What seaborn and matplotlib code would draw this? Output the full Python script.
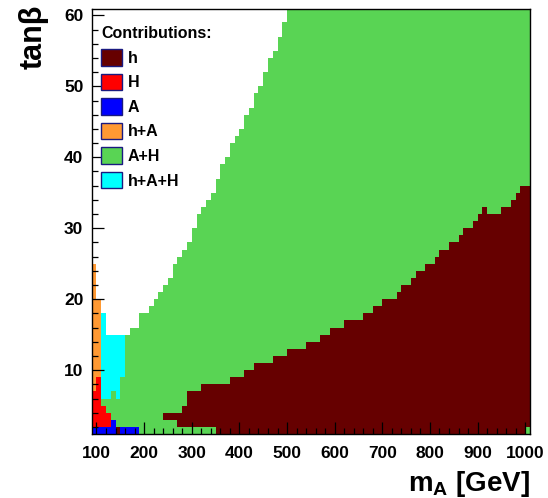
import numpy as np
import pandas as pd
import matplotlib
matplotlib.use("Agg")
import matplotlib.pyplot as plt
import seaborn as sns
from matplotlib.colors import ListedColormap
from matplotlib.patches import Patch
from matplotlib.ticker import MultipleLocator

# ---------------- data ----------------
contributions = ["h", "H", "A", "h+A", "A+H", "h+A+H"]
colours = ["#660000", "#ff0000", "#0000ff", "#ff9933", "#59d454", "#00ffff"]

mA_bin_low = list(range(90, 1010, 10))      # 10 GeV wide mA bins
tanb_bin_low = list(range(1, 61))           # unit-wide tanβ bins

# upper tanβ edge of the filled region in each mA bin (white above)
top_tanb = [25, 20, 18, 15, 15, 15, 15, 15, 16, 16,
            18, 18, 19, 20, 21, 22, 23, 25, 26, 27,
            28, 30, 32, 33, 34, 35, 37, 39, 40, 42,
            43, 44, 46, 47, 49, 50, 52, 54, 55, 57,
            59, 61, 61, 61, 61, 61, 61, 61, 61, 61,
            61, 61, 61, 61, 61, 61, 61, 61, 61, 61,
            61, 61, 61, 61, 61, 61, 61, 61, 61, 61,
            61, 61, 61, 61, 61, 61, 61, 61, 61, 61,
            61, 61, 61, 61, 61, 61, 61, 61, 61, 61,
            61, 61]

# "h" region: lower / upper tanβ edge per mA bin (0 = none)
h_low = [0, 0, 0, 0, 0, 0, 0, 0, 0, 0,
         0, 0, 0, 0, 0, 3, 3, 3, 2, 2,
         2, 2, 2, 2, 2, 2, 1, 1, 1, 1,
         1, 1, 1, 1, 1, 1, 1, 1, 1, 1,
         1, 1, 1, 1, 1, 1, 1, 1, 1, 1,
         1, 1, 1, 1, 1, 1, 1, 1, 1, 1,
         1, 1, 1, 1, 1, 1, 1, 1, 1, 1,
         1, 1, 1, 1, 1, 1, 1, 1, 1, 1,
         1, 1, 1, 1, 1, 1, 1, 1, 1, 1,
         1, 2]
h_high = [0, 0, 0, 0, 0, 0, 0, 0, 0, 0,
          0, 0, 0, 0, 0, 4, 4, 4, 4, 5,
          7, 7, 7, 8, 8, 8, 8, 8, 8, 9,
          9, 9, 10, 10, 11, 11, 11, 11, 12, 12,
          12, 13, 13, 13, 13, 14, 14, 14, 15, 15,
          16, 16, 16, 17, 17, 17, 17, 18, 18, 19,
          19, 20, 20, 20, 21, 22, 22, 23, 24, 24,
          25, 25, 26, 27, 27, 28, 28, 29, 30, 30,
          31, 32, 33, 32, 32, 32, 33, 33, 34, 35,
          36, 36]

# low-mass corner: individual cells (mA bin, contribution, tanβ from, tanβ to)
low_mA      = [90, 90, 90, 100, 100, 100, 110, 110, 110, 120, 120, 120,
               130, 130, 140, 140, 150, 150, 160, 170, 180]
low_contrib = ["A", "H", "h+A", "A", "H", "h+A", "A", "H", "h+A+H",
               "A", "H", "h+A+H", "A", "h+A+H", "h", "h+A+H",
               "A", "h+A+H", "A", "A", "A"]
low_from    = [1, 2, 7, 1, 2, 9, 1, 2, 6, 1, 2, 6, 1, 7, 1, 6, 1, 9, 1, 1, 1]
low_to      = [2, 7, 25, 2, 9, 20, 2, 5, 18, 2, 4, 15, 3, 15, 2, 15, 2, 15, 2, 2, 2]

# ---------------- build the classification table ----------------
cells = {}
for i, m in enumerate(mA_bin_low):
    for t in tanb_bin_low:
        if t >= top_tanb[i]:
            continue
        c = "A+H"
        if h_low[i] <= t < h_high[i]:
            c = "h"
        cells[(m, t)] = c
for m, c, lo, hi in zip(low_mA, low_contrib, low_from, low_to):
    for t in range(lo, hi):
        cells[(m, t)] = c

df = pd.DataFrame(
    [(m + 5, t + 0.5, contributions.index(c) + 1) for (m, t), c in cells.items()],
    columns=["mA", "tanb", "code"],
)
x_edges = mA_bin_low + [mA_bin_low[-1] + 10]
y_edges = tanb_bin_low + [tanb_bin_low[-1] + 1]

# ---------------- plot ----------------
sns.set_style("white")
plt.rcParams["font.family"] = ["Liberation Sans", "DejaVu Sans"]
plt.rcParams["font.weight"] = "bold"
plt.rcParams["text.color"] = "black"
plt.rcParams["axes.labelcolor"] = "black"
plt.rcParams["xtick.color"] = "black"
plt.rcParams["ytick.color"] = "black"
plt.rcParams["mathtext.fontset"] = "custom"
plt.rcParams["mathtext.rm"] = "Liberation Sans:bold"
plt.rcParams["mathtext.bf"] = "Liberation Sans:bold"
plt.rcParams["mathtext.it"] = "Liberation Sans:bold"

fig = plt.figure(figsize=(5.48, 4.98), dpi=100)
ax = fig.add_axes([91.7 / 548, 1 - 434 / 498, (530 - 91.7) / 548, (434 - 9) / 498])

sns.histplot(data=df, x="mA", y="tanb", weights="code", bins=[x_edges, y_edges],
             cmap=ListedColormap(colours), vmin=0.5, vmax=6.5, cbar=False, ax=ax,
             linewidth=0, antialiased=False)

ax.set_xlim(90, 1010)
ax.set_ylim(1, 60.9)
ax.set_xticks(range(100, 1001, 100))
ax.set_yticks(range(10, 61, 10))
ax.xaxis.set_minor_locator(MultipleLocator(20))
ax.yaxis.set_minor_locator(MultipleLocator(2))
ax.tick_params(which="both", direction="in", bottom=True, left=True, top=False, right=False,
               color="black", labelcolor="black", width=0.9, labelsize=12.5)
ax.tick_params(which="major", length=8.5)
ax.tick_params(which="minor", length=4.3)
ax.tick_params(axis="x", pad=9)
ax.tick_params(axis="y", pad=6)
ax.set_axisbelow(False)
for lab in ax.get_xticklabels() + ax.get_yticklabels():
    lab.set_fontweight("bold")
for sp in ax.spines.values():
    sp.set_color("black")
    sp.set_linewidth(1.0)
    sp.set_zorder(5)
ax.grid(False)

ax.set_xlabel(r"m$_\mathregular{A}$ [GeV]", fontsize=20, fontweight="bold", loc="right")
ax.xaxis.set_label_coords(1.0, -0.082)
ax.xaxis.label.set_va("top")
ax.set_ylabel("tanβ", fontsize=22, fontweight="bold", loc="top")
ax.yaxis.set_label_coords(-0.098, 1.01)

handles = [Patch(facecolor=c, edgecolor="#1a1a80", linewidth=1.0) for c in colours]
leg = ax.legend(handles, contributions, title="Contributions:", loc="upper left",
                bbox_to_anchor=(0.015, 0.967), frameon=False, fontsize=11.5,
                title_fontproperties={"size": 11.5, "weight": "bold"},
                alignment="left", borderpad=0.2, borderaxespad=0,
                handlelength=1.3, handleheight=1.2, handletextpad=0.35,
                labelspacing=0.5)
for t in leg.get_texts():
    t.set_fontweight("bold")

fig.savefig("out.png", dpi=100)
